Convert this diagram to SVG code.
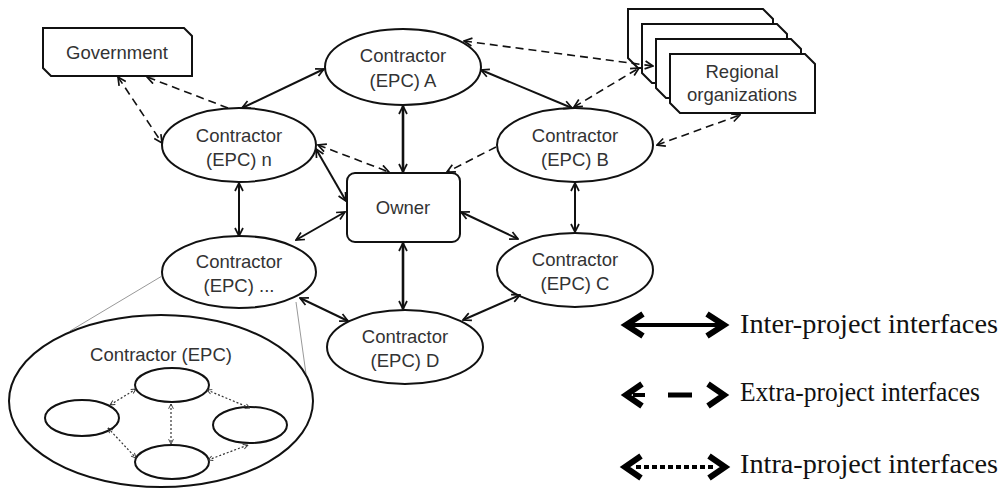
<svg xmlns="http://www.w3.org/2000/svg" width="1003" height="490" viewBox="0 0 1003 490">
<style>
.shape{fill:#fff;stroke:#111;stroke-width:2}
.lbl{font-family:"Liberation Sans",Arial,sans-serif;font-size:18.5px;fill:#333;text-anchor:middle}
.solid{stroke:#111;stroke-width:2;fill:none}
.thick{stroke:#111;stroke-width:2.6;fill:none}
.dash{stroke:#111;stroke-width:1.6;stroke-dasharray:8,5;fill:none}
.dot{stroke:#333;stroke-width:1.2;stroke-dasharray:2,2;fill:none}
.gray{stroke:#999;stroke-width:1;fill:none}
.leg{font-family:"Liberation Serif","Times New Roman",serif;font-size:27.5px;fill:#111}
.lg{stroke:#000;fill:none;stroke-linejoin:miter}
</style>
<defs>
<marker id="ah" viewBox="0 0 10 10" refX="9" refY="5" markerWidth="10" markerHeight="10" markerUnits="userSpaceOnUse" orient="auto-start-reverse">
<path d="M1,1 L9,5 L1,9" fill="none" stroke="#111" stroke-width="1.7"/>
</marker>
<marker id="ahs" viewBox="0 0 10 10" refX="9" refY="5" markerWidth="6" markerHeight="6" markerUnits="userSpaceOnUse" orient="auto-start-reverse">
<path d="M1,1 L9,5 L1,9" fill="none" stroke="#333" stroke-width="1.5"/>
</marker>
</defs>

<g id="government">
<path class="shape" d="M43,28 L184,28 L192,36 L192,76 L51,76 L43,68 Z"/>
<text class="lbl" x="117" y="59">Government</text>
</g>

<g id="regional">
<path class="shape" d="M628,9 L763,9 L773,19 L773,68 L638,68 L628,58 Z"/>
<path class="shape" d="M642,24 L777,24 L787,34 L787,83 L652,83 L642,73 Z"/>
<path class="shape" d="M656,39 L791,39 L801,49 L801,98 L666,98 L656,88 Z"/>
<path class="shape" d="M670,54 L805,54 L815,64 L815,113 L680,113 L670,103 Z"/>
<text class="lbl" x="742" y="78">Regional</text>
<text class="lbl" x="742" y="101">organizations</text>
</g>

<g id="contractorA">
<ellipse class="shape" cx="403" cy="67" rx="78" ry="38"/>
<text class="lbl" x="403" y="62">Contractor</text>
<text class="lbl" x="403" y="87">(EPC) A</text>
</g>

<g id="contractorN">
<ellipse class="shape" cx="239" cy="145" rx="77" ry="37"/>
<text class="lbl" x="239" y="142">Contractor</text>
<text class="lbl" x="239" y="166">(EPC) n</text>
</g>

<g id="contractorB">
<ellipse class="shape" cx="575" cy="145" rx="78" ry="37"/>
<text class="lbl" x="575" y="142">Contractor</text>
<text class="lbl" x="575" y="166">(EPC) B</text>
</g>

<g id="owner">
<rect class="shape" x="347" y="173" width="113" height="69" rx="8"/>
<text class="lbl" x="403" y="214">Owner</text>
</g>

<g id="contractorDots">
<ellipse class="shape" cx="239" cy="272" rx="77" ry="36"/>
<text class="lbl" x="239" y="268">Contractor</text>
<text class="lbl" x="239" y="292">(EPC) ...</text>
</g>

<g id="contractorC">
<ellipse class="shape" cx="575" cy="270" rx="78" ry="37"/>
<text class="lbl" x="575" y="266">Contractor</text>
<text class="lbl" x="575" y="290">(EPC) C</text>
</g>

<g id="contractorD">
<ellipse class="shape" cx="405" cy="347" rx="78" ry="37"/>
<text class="lbl" x="405" y="343">Contractor</text>
<text class="lbl" x="405" y="367">(EPC) D</text>
</g>

<g id="detail">
<line class="gray" x1="162" y1="276" x2="70" y2="331"/>
<line class="gray" x1="296" y1="302" x2="306" y2="374"/>
<ellipse class="shape" cx="161" cy="401" rx="152" ry="86" stroke-width="2.2"/>
<text class="lbl" x="161" y="361">Contractor (EPC)</text>
<ellipse class="shape" cx="172" cy="385" rx="37" ry="17"/>
<ellipse class="shape" cx="82" cy="418" rx="37" ry="18"/>
<ellipse class="shape" cx="250" cy="425" rx="37" ry="18"/>
<ellipse class="shape" cx="172" cy="462" rx="37" ry="17"/>
</g>

<g id="connectors">
<line class="solid" x1="242" y1="108" x2="324" y2="69" marker-start="url(#ah)" marker-end="url(#ah)"/>
<line class="solid" x1="481" y1="70" x2="572" y2="108" marker-start="url(#ah)" marker-end="url(#ah)"/>
<line class="thick" x1="403" y1="106" x2="403" y2="172" marker-start="url(#ah)" marker-end="url(#ah)"/>
<line class="solid" x1="316" y1="149" x2="346" y2="201" marker-start="url(#ah)" marker-end="url(#ah)"/>
<line class="solid" x1="239" y1="183" x2="239" y2="236" marker-start="url(#ah)" marker-end="url(#ah)"/>
<line class="solid" x1="345" y1="212" x2="296" y2="240" marker-start="url(#ah)" marker-end="url(#ah)"/>
<line class="solid" x1="461" y1="212" x2="518" y2="239" marker-start="url(#ah)" marker-end="url(#ah)"/>
<line class="solid" x1="575" y1="183" x2="575" y2="232" marker-start="url(#ah)" marker-end="url(#ah)"/>
<line class="thick" x1="403" y1="243" x2="403" y2="309" marker-start="url(#ah)" marker-end="url(#ah)"/>
<line class="solid" x1="300" y1="298" x2="348" y2="321" marker-start="url(#ah)" marker-end="url(#ah)"/>
<line class="solid" x1="463" y1="320" x2="520" y2="295" marker-start="url(#ah)" marker-end="url(#ah)"/>

<line class="dash" x1="118" y1="77" x2="162" y2="143" marker-start="url(#ah)" marker-end="url(#ah)"/>
<line class="dash" x1="228" y1="108" x2="147" y2="77" marker-end="url(#ah)"/>
<line class="dash" x1="318" y1="145" x2="389" y2="172" marker-start="url(#ah)" marker-end="url(#ah)"/>
<line class="dash" x1="496" y1="147" x2="447" y2="172" marker-end="url(#ah)"/>
<line class="dash" x1="464" y1="41" x2="653" y2="66" marker-start="url(#ah)" marker-end="url(#ah)"/>
<line class="dash" x1="574" y1="107" x2="639" y2="68" marker-start="url(#ah)" marker-end="url(#ah)"/>
<line class="dash" x1="657" y1="145" x2="740" y2="115" marker-start="url(#ah)" marker-end="url(#ah)"/>

<line class="dot" x1="136" y1="389" x2="110" y2="405" marker-start="url(#ahs)" marker-end="url(#ahs)"/>
<line class="dot" x1="171" y1="404" x2="171" y2="444" marker-start="url(#ahs)" marker-end="url(#ahs)"/>
<line class="dot" x1="207" y1="390" x2="250" y2="408" marker-start="url(#ahs)" marker-end="url(#ahs)"/>
<line class="dot" x1="108" y1="428" x2="136" y2="458" marker-start="url(#ahs)" marker-end="url(#ahs)"/>
<line class="dot" x1="208" y1="460" x2="248" y2="445" marker-start="url(#ahs)" marker-end="url(#ahs)"/>
</g>

<g id="legend">
<line class="lg" x1="628" y1="325" x2="721" y2="325" stroke-width="4"/>
<path class="lg" d="M643,314 L626,325 L643,336" stroke-width="6"/>
<path class="lg" d="M707,314 L724,325 L707,336" stroke-width="6"/>
<text class="leg" x="740" y="333" textLength="258" lengthAdjust="spacingAndGlyphs">Inter-project interfaces</text>

<path class="lg" d="M642,384 L626,395 L642,406" stroke-width="6"/>
<line class="lg" x1="633" y1="395" x2="645" y2="395" stroke-width="4"/>
<line class="lg" x1="668" y1="395" x2="692" y2="395" stroke-width="5"/>
<path class="lg" d="M708,384 L724,395 L708,406" stroke-width="6"/>
<text class="leg" x="740" y="401" textLength="240" lengthAdjust="spacingAndGlyphs">Extra-project interfaces</text>

<path class="lg" d="M641,456 L625,467 L641,478" stroke-width="6"/>
<line class="lg" x1="636" y1="467" x2="714" y2="467" stroke-width="4" stroke-dasharray="5,3"/>
<path class="lg" d="M709,456 L725,467 L709,478" stroke-width="6"/>
<text class="leg" x="740" y="473" textLength="258" lengthAdjust="spacingAndGlyphs">Intra-project interfaces</text>
</g>
</svg>
